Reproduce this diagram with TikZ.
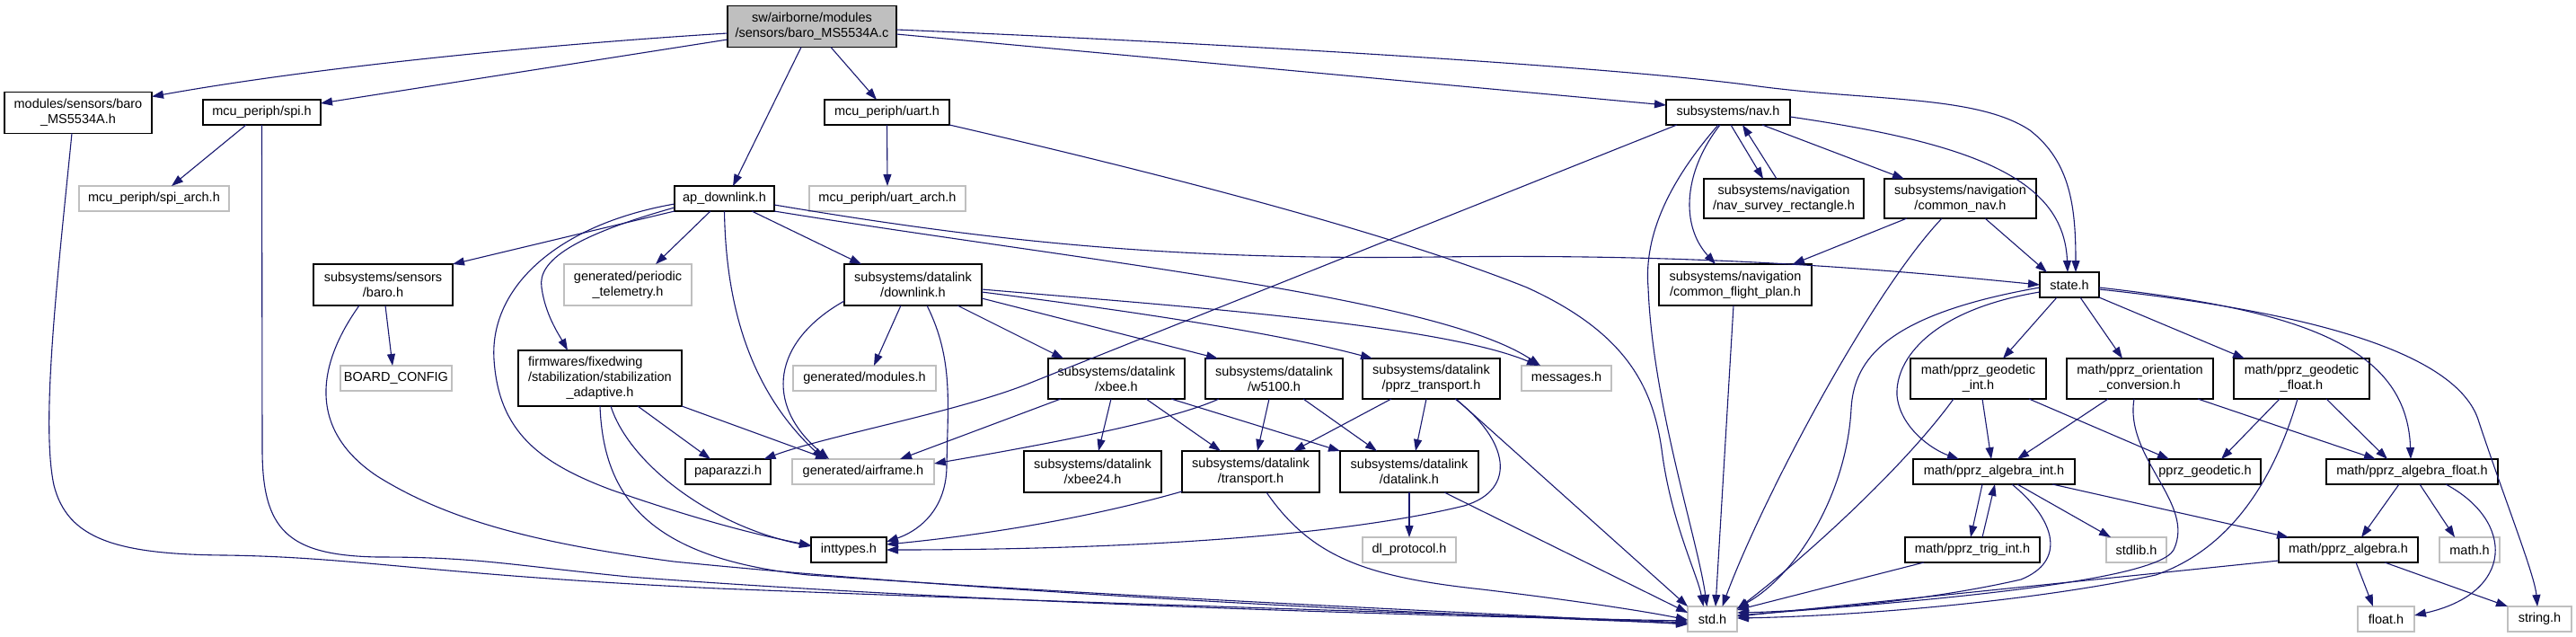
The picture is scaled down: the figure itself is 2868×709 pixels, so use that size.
\documentclass[tikz,border=0pt]{standalone}
\usepackage{fontspec}
\setmainfont{Liberation Sans}
\usetikzlibrary{arrows.meta}
\definecolor{edgec}{HTML}{191970}
\definecolor{grayb}{HTML}{BFBFBF}
\begin{document}
\begin{tikzpicture}[x=1pt,y=-1pt,
  box/.style={draw=black, line width=1.3pt, fill=white, inner sep=1pt, outer sep=0pt,
    font=\fontsize{14.5}{16.8}\selectfont, align=center, minimum height=28pt},
  two/.style={minimum height=46pt},
  ghost/.style={draw=grayb},
  e/.style={draw=edgec, line width=1.1pt, -{Triangle[length=13pt,width=9pt]}}]
\fill[white] (0,0) rectangle (2868,709);
\useasboundingbox (0,0) rectangle (2868,709);
% ---- nodes ----
\node[box, two, minimum width=188pt, fill=grayb] (root) at (904,29.5) {sw/airborne/modules\\/sensors/baro\_MS5534A.c};
\node[box, two, minimum width=164pt] (baroMS) at (87,125.5) {modules/sensors/baro\\\_MS5534A.h};
\node[box, minimum width=131pt] (spi) at (291.5,125) {mcu\_periph/spi.h};
\node[box, minimum width=139pt] (uart) at (987.5,125) {mcu\_periph/uart.h};
\node[box, minimum width=138pt] (nav) at (1924,125) {subsystems/nav.h};
\node[box, ghost, minimum width=167pt] (spiarch) at (171.5,221) {mcu\_periph/spi\_arch.h};
\node[box, minimum width=111pt] (apdl) at (806.5,221) {ap\_downlink.h};
\node[box, ghost, minimum width=174pt] (uartarch) at (988,221) {mcu\_periph/uart\_arch.h};
\node[box, two, minimum width=178pt, minimum height=44pt] (survey) at (1986,221) {subsystems/navigation\\/nav\_survey\_rectangle.h};
\node[box, two, minimum width=169pt, minimum height=44pt] (cnav) at (2182.5,221) {subsystems/navigation\\/common\_nav.h};
\node[box, two, minimum width=155pt] (sbaro) at (426.5,317) {subsystems/sensors\\/baro.h};
\node[box, two, ghost, minimum width=142pt] (ptele) at (699,317) {generated/periodic\\\_telemetry.h};
\node[box, two, minimum width=153pt] (dl) at (1016.5,317) {subsystems/datalink\\/downlink.h};
\node[box, two, minimum width=170pt] (cfp) at (1932,317) {subsystems/navigation\\/common\_flight\_plan.h};
\node[box, minimum width=66pt] (state) at (2304,317) {state.h};
\node[box, ghost, minimum width=124pt] (boardcfg) at (441,421) {BOARD\_CONFIG};
\node[box, minimum width=182pt, minimum height=62pt] (stab) at (668,421) {\begin{tabular}{@{}l@{}}firmwares/fixedwing\\/stabilization/stabilization\\\multicolumn{1}{@{}c@{}}{\_adaptive.h}\end{tabular}};
\node[box, ghost, minimum width=159pt] (gmod) at (962.5,421) {generated/modules.h};
\node[box, two, minimum width=152pt, minimum height=45pt] (xbee) at (1243,421.5) {subsystems/datalink\\/xbee.h};
\node[box, two, minimum width=153pt, minimum height=45pt] (w5100) at (1418.5,421.5) {subsystems/datalink\\/w5100.h};
\node[box, two, minimum width=153pt, minimum height=45pt] (pprzt) at (1593.5,421.5) {subsystems/datalink\\/pprz\_transport.h};
\node[box, ghost, minimum width=100pt] (msgs) at (1744,421) {messages.h};
\node[box, two, minimum width=151pt, minimum height=45pt] (gint) at (2202.5,421.5) {math/pprz\_geodetic\\\_int.h};
\node[box, two, minimum width=163pt, minimum height=45pt] (oconv) at (2382.5,421.5) {math/pprz\_orientation\\\_conversion.h};
\node[box, two, minimum width=151pt, minimum height=45pt] (gfloat) at (2562.5,421.5) {math/pprz\_geodetic\\\_float.h};
\node[box, minimum width=95pt] (pap) at (810.5,525) {paparazzi.h};
\node[box, ghost, minimum width=158pt] (airframe) at (961,525) {generated/airframe.h};
\node[box, two, minimum width=153pt] (xbee24) at (1216.5,525) {subsystems/datalink\\/xbee24.h};
\node[box, two, minimum width=153pt] (transport) at (1392.5,525) {subsystems/datalink\\/transport.h};
\node[box, two, minimum width=154pt] (datalink) at (1569,525) {subsystems/datalink\\/datalink.h};
\node[box, minimum width=180pt] (aint) at (2220,525) {math/pprz\_algebra\_int.h};
\node[box, minimum width=124pt] (geod) at (2455,525) {pprz\_geodetic.h};
\node[box, minimum width=191pt] (afloat) at (2685.5,525) {math/pprz\_algebra\_float.h};
\node[box, minimum width=84pt] (inttypes) at (945,612) {inttypes.h};
\node[box, ghost, minimum width=104pt] (dlproto) at (1569,612) {dl\_protocol.h};
\node[box, minimum width=150pt] (trig) at (2196,612) {math/pprz\_trig\_int.h};
\node[box, ghost, minimum width=67pt] (stdlib) at (2378.5,612) {stdlib.h};
\node[box, minimum width=155pt] (alg) at (2614.5,612) {math/pprz\_algebra.h};
\node[box, ghost, minimum width=67pt] (nmath) at (2749.5,612) {math.h};
\node[box, ghost, minimum width=55pt] (nstd) at (1906.5,689) {std.h};
\node[box, ghost, minimum width=63pt] (nfloat) at (2656.5,689) {float.h};
\node[box, ghost, minimum width=71pt] (nstring) at (2827.5,689) {string.h};
% ---- edges from root ----
\draw[e] ([yshift=-7.5pt]root.west) .. controls (600,50) and (350,75) .. ([yshift=18pt]baroMS.east);
\draw[e] ([yshift=-14.5pt]root.west) -- ([yshift=10pt]spi.east);
\draw[e] ([xshift=-12pt]root.south) -- ([xshift=9.5pt]apdl.north);
\draw[e] ([xshift=21pt]root.south) -- ([xshift=-11.5pt]uart.north);
\draw[e] ([yshift=-8.5pt]root.east) -- ([yshift=8pt]nav.west);
\draw[e] ([yshift=-3.5pt]root.east) .. controls (1400,50) and (1800,75) .. (1950,95) .. controls (2080,113) and (2200,105) .. (2260,145) .. controls (2305,180) and (2311,230) .. ([xshift=7pt]state.north);
% ---- left part ----
\draw[e] ([xshift=-7pt]baroMS.south) .. controls (65,300) and (45,470) .. (60,540) .. controls (75,600) and (130,617) .. (250,618) .. controls (400,620) and (480,640) .. (800,655) .. controls (1300,675) and (1700,685) .. ([yshift=-4pt]nstd.west);
\draw[e] ([xshift=-17.5pt]spi.south) -- ([xshift=19.5pt]spiarch.north);
\draw[e] (spi.south) -- (292,500) .. controls (292,590) and (320,618) .. (420,620) .. controls (530,620) and (560,628) .. (700,642) .. controls (1100,672) and (1600,686) .. ([yshift=-2pt]nstd.west);
\draw[e] (uart.south) -- (uartarch.north);
\draw[e] (uart.south east) .. controls (1300,195) and (1550,260) .. (1700,320) .. controls (1810,370) and (1840,430) .. (1850,500) .. controls (1860,580) and (1890,640) .. ([xshift=-10pt]nstd.north);
% ---- ap_downlink ----
\draw[e] (apdl.south west) -- (sbaro.north east);
\draw[e] ([xshift=-15.5pt]apdl.south) -- ([xshift=31pt]ptele.north);
\draw[e] ([xshift=30.5pt]apdl.south) -- ([xshift=-57.5pt]dl.north);
\draw[e] ([yshift=-10pt]apdl.west) .. controls (640,262) and (598,290) .. (603,320) .. controls (607,350) and (622,372) .. ([xshift=-36pt]stab.north);
\draw[e] ([yshift=-6pt]apdl.west) .. controls (620,250) and (545,320) .. (550,400) .. controls (555,480) and (600,515) .. (680,545) .. controls (780,580) and (850,597) .. ([yshift=5pt]inttypes.west);
\draw[e] (apdl.south) .. controls (808,330) and (830,430) .. ([xshift=-44pt]airframe.north);
\draw[e] (apdl.south east) .. controls (1200,290) and (1600,330) .. ([xshift=-29pt]msgs.north);
\draw[e] ([yshift=-7pt]apdl.east) .. controls (1100,268) and (1300,290) .. (1600,286) .. controls (1900,282) and (2100,300) .. (state.west);
% ---- stabilization ----
\draw[e] ([xshift=42pt]stab.south) -- ([xshift=-19.5pt]pap.north);
\draw[e] (stab.south east) -- ([xshift=-40pt]airframe.north);
\draw[e] ([xshift=12pt]stab.south) .. controls (700,515) and (790,585) .. ([yshift=4pt]inttypes.west);
\draw[e] (stab.south) .. controls (672,560) and (730,622) .. (900,640) .. controls (1300,668) and (1700,684) .. ([yshift=-6pt]nstd.west);
% ---- sensors baro ----
\draw[e] ([xshift=2.5pt]sbaro.south) -- ([xshift=-4pt]boardcfg.north);
\draw[e] ([xshift=-26.5pt]sbaro.south) .. controls (350,410) and (345,480) .. (420,530) .. controls (500,580) and (600,605) .. (750,625) .. controls (1100,660) and (1600,684) .. ([yshift=-5pt]nstd.west);
% ---- downlink ----
\draw[e] ([xshift=-13.5pt]dl.south) -- ([xshift=10.5pt]gmod.north);
\draw[e] ([yshift=-18pt]dl.west) .. controls (860,380) and (850,450) .. ([xshift=-38pt]airframe.north);
\draw[e] ([xshift=15.5pt]dl.south) .. controls (1062,400) and (1055,450) .. (1054,520) .. controls (1053,570) and (1020,592) .. ([yshift=9pt]inttypes.east);
\draw[e] ([xshift=49.5pt]dl.south) -- ([xshift=-59pt]xbee.north);
\draw[e] ([yshift=-15pt]dl.east) -- ([xshift=-62.5pt]w5100.north);
\draw[e] ([yshift=-8pt]dl.east) .. controls (1250,345) and (1420,370) .. ([xshift=-65.5pt]pprzt.north);
\draw[e] ([yshift=-5pt]dl.east) .. controls (1300,340) and (1600,360) .. ([xshift=-31pt]msgs.north);
% ---- xbee, w5100, pprz_transport ----
\draw[e] ([xshift=-62pt]xbee.south) -- ([xshift=41pt]airframe.north);
\draw[e] ([xshift=-6pt]xbee.south) -- ([xshift=6.5pt]xbee24.north);
\draw[e] ([xshift=33pt]xbee.south) -- ([xshift=-33.5pt]transport.north);
\draw[e] ([xshift=61pt]xbee.south) -- (datalink.north west);
\draw[e] ([xshift=-61.5pt]w5100.south) .. controls (1300,470) and (1150,497) .. ([yshift=9pt]airframe.east);
\draw[e] ([xshift=-5.5pt]w5100.south) -- ([xshift=7.5pt]transport.north);
\draw[e] ([xshift=32.5pt]w5100.south) -- ([xshift=-36pt]datalink.north);
\draw[e] ([xshift=-44.5pt]pprzt.south) -- ([xshift=47.5pt]transport.north);
\draw[e] ([xshift=-5.5pt]pprzt.south) -- ([xshift=7pt]datalink.north);
\draw[e] ([xshift=26.5pt]pprzt.south) .. controls (1680,490) and (1690,545) .. (1630,563) .. controls (1470,602) and (1200,612) .. (inttypes.east);
\draw[e] ([xshift=27.5pt]pprzt.south) -- (nstd.north west);
\draw[e] ([yshift=-22pt]transport.west) .. controls (1200,580) and (1080,597) .. ([yshift=6pt]inttypes.east);
\draw[e] ([xshift=17.5pt]transport.south) .. controls (1460,620) and (1520,642) .. (1650,656) .. controls (1750,668) and (1830,680) .. ([yshift=-1pt]nstd.west);
\draw[e] (datalink.south) -- (dlproto.north);
\draw[e] ([xshift=39pt]datalink.south) -- ([yshift=-7pt]nstd.north west);
% ---- nav ----
\draw[e] ([xshift=-57pt]nav.south) -- (1150,425) .. controls (1070,458) and (920,485) .. ([xshift=40pt]pap.north);
\draw[e] ([xshift=-11pt]nav.south) .. controls (1860,200) and (1830,260) .. (1835,320) .. controls (1840,450) and (1890,600) .. ([xshift=-6pt]nstd.north);
\draw[e] ([xshift=-9pt]nav.south) .. controls (1875,190) and (1870,250) .. ([xshift=-22pt]cfp.north);
\draw[e] ([xshift=3pt]nav.south) -- ([xshift=-23pt]survey.north);
\draw[e] ([xshift=-8pt]survey.north) -- ([xshift=16pt]nav.south);
\draw[e] ([xshift=38pt]nav.south) -- ([xshift=-62.5pt]cnav.north);
\draw[e] ([yshift=-5pt]nav.east) .. controls (2200,160) and (2298,200) .. ([xshift=-2pt]state.north);
\draw[e] ([xshift=-59.5pt]cnav.south) -- ([xshift=64pt]cfp.north);
\draw[e] ([xshift=27.5pt]cnav.south) -- ([xshift=-25pt]state.north);
\draw[e] ([xshift=-20.5pt]cnav.south) .. controls (2080,330) and (1960,560) .. ([xshift=11pt]nstd.north);
\draw[e] ([xshift=-2pt]cfp.south) -- ([xshift=3.5pt]nstd.north);
% ---- state ----
\draw[e] ([xshift=-14pt]state.south) -- ([xshift=27.5pt]gint.north);
\draw[e] ([xshift=12pt]state.south) -- ([xshift=-19.5pt]oconv.north);
\draw[e] (state.south east) -- ([xshift=-63.5pt]gfloat.north);
\draw[e] ([yshift=-8pt]state.west) .. controls (2150,345) and (2110,400) .. (2112,440) .. controls (2115,475) and (2150,500) .. ([xshift=-39pt]aint.north);
\draw[e] ([yshift=-3pt]state.west) .. controls (2100,350) and (2064,400) .. (2061,455) .. controls (2056,550) and (2000,640) .. ([yshift=12pt]nstd.east);
\draw[e] ([yshift=-3pt]state.east) .. controls (2560,345) and (2680,385) .. ([xshift=-1.5pt]afloat.north);
\draw[e] ([yshift=-5pt]state.east) .. controls (2600,350) and (2740,400) .. (2760,470) .. controls (2790,560) and (2822,640) .. ([xshift=-2.5pt]nstring.north);
% ---- math ----
\draw[e] ([xshift=4.5pt]gint.south) -- ([xshift=-3pt]aint.north);
\draw[e] ([xshift=56.5pt]gint.south) -- ([xshift=-40pt]geod.north);
\draw[e] ([xshift=-27.5pt]gint.south) .. controls (2120,520) and (2010,620) .. ([yshift=11pt]nstd.east);
\draw[e] ([xshift=-35.5pt]oconv.south) -- ([xshift=26pt]aint.north);
\draw[e] ([xshift=-6.5pt]oconv.south) .. controls (2365,510) and (2445,560) .. (2420,612) .. controls (2400,650) and (2100,672) .. ([yshift=4pt]nstd.east);
\draw[e] ([xshift=64.5pt]oconv.south) -- ([xshift=-40.5pt]afloat.north);
\draw[e] ([xshift=-24.5pt]gfloat.south) -- ([xshift=18pt]geod.north);
\draw[e] ([xshift=27.5pt]gfloat.south) -- ([xshift=-27.5pt]afloat.north);
\draw[e] ([xshift=-4.5pt]gfloat.south) .. controls (2530,540) and (2480,612) .. (2400,640) .. controls (2250,672) and (2050,686) .. ([yshift=1pt]nstd.east);
\draw[e] ([xshift=-13pt]aint.south) -- ([xshift=-2pt]trig.north);
\draw[e] ([xshift=11pt]trig.north) -- ([xshift=1pt]aint.south);
\draw[e] ([xshift=20pt]aint.south) .. controls (2290,580) and (2300,625) .. (2250,645) .. controls (2150,668) and (2020,680) .. ([yshift=7pt]nstd.east);
\draw[e] ([xshift=26pt]aint.south) -- ([xshift=-28.5pt]stdlib.north);
\draw[e] ([xshift=65pt]aint.south) -- ([xshift=-66.5pt]alg.north);
\draw[e] ([xshift=-54pt]trig.south) -- ([yshift=10pt]nstd.east);
\draw[e] ([xshift=-14.5pt]afloat.south) -- ([xshift=14.5pt]alg.north);
\draw[e] ([xshift=8.5pt]afloat.south) -- ([xshift=-16.5pt]nmath.north);
\draw[e] ([xshift=37.5pt]afloat.south) .. controls (2800,580) and (2800,660) .. ([yshift=4pt]nfloat.east);
\draw[e] ([yshift=-12pt]alg.west) -- ([yshift=3pt]nstd.east);
\draw[e] ([xshift=8.5pt]alg.south) -- ([xshift=-14.5pt]nfloat.north);
\draw[e] ([xshift=40.5pt]alg.south) -- (nstring.north west);
\end{tikzpicture}
\end{document}
